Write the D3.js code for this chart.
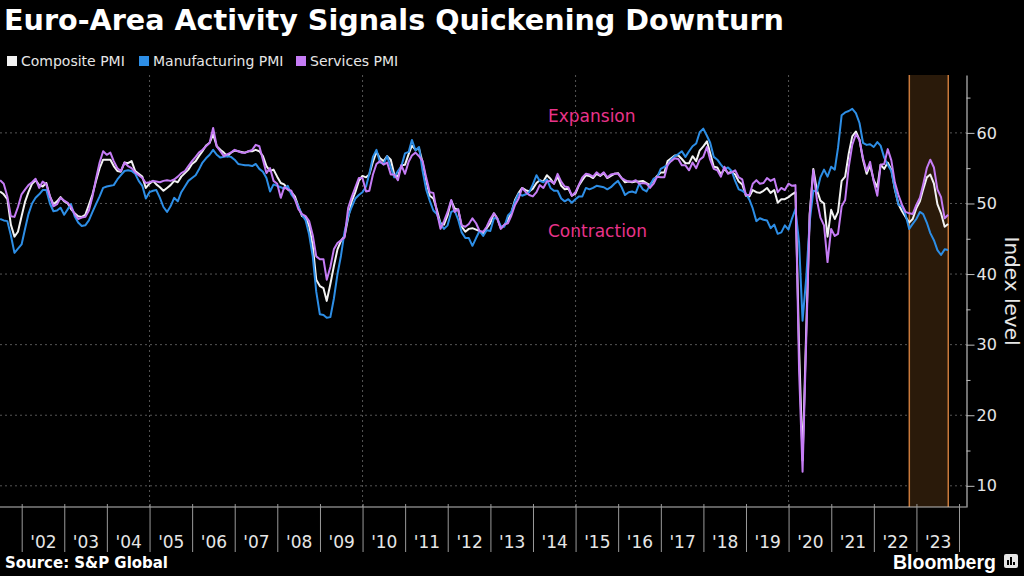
<!DOCTYPE html>
<html>
<head>
<meta charset="utf-8">
<script src="https://cdn.jsdelivr.net/npm/d3@7"></script>
<style>
html,body{margin:0;padding:0;background:#000;}
svg{display:block;}
</style>
</head>
<body>
<svg id="chart" width="1024" height="576"></svg>
<script>
// monthly readings, first value is June 2001, last is Sept 2023
var firstMonth = [2001, 5];

var composite = [
  51.7,51.3,50.6,47.0,45.3,46.0,48.2,                               // 2001 jun-dec
  50.3,51.6,52.8,53.3,52.6,52.4,52.9,51.0,49.9,50.3,50.9,50.3,      // 2002
  50.0,49.2,48.6,48.2,48.1,48.4,49.8,51.3,53.2,55.0,56.2,56.2,      // 2003
  56.2,55.3,54.6,54.5,55.8,55.7,56.0,54.6,54.2,53.8,52.2,52.8,      // 2004
  53.2,52.7,52.3,51.8,52.2,52.6,53.2,53.0,53.8,54.3,54.8,55.6,      // 2005
  56.0,56.7,57.4,58.2,58.6,59.8,58.1,57.6,57.2,56.7,57.2,57.5,      // 2006
  57.4,57.3,57.2,57.4,57.4,57.6,57.4,56.7,55.3,54.6,54.8,53.8,      // 2007
  52.9,52.7,52.0,51.6,51.0,49.6,48.2,48.0,46.8,44.0,39.2,38.3,      // 2008
  38.0,36.2,38.6,41.1,43.5,44.7,45.4,48.0,50.3,51.6,53.2,53.9,      // 2009
  53.7,54.1,55.9,57.3,56.4,56.0,56.7,56.2,54.1,53.8,55.4,55.5,      // 2010
  57.0,58.2,57.6,57.8,55.8,53.3,51.1,50.7,49.1,47.2,47.0,48.3,      // 2011
  50.4,49.3,49.1,46.7,46.0,46.4,46.5,46.3,46.1,45.7,46.5,47.2,      // 2012
  48.6,47.9,46.5,46.9,47.7,48.7,50.5,51.5,52.2,51.9,51.7,52.1,      // 2013
  52.9,53.3,53.1,54.0,53.5,52.8,53.8,52.5,52.0,52.1,51.1,51.4,      // 2014
  52.6,53.3,54.0,53.9,53.6,54.2,53.9,54.3,53.6,53.9,54.2,54.3,      // 2015
  53.6,53.0,53.1,53.0,53.1,53.1,53.2,52.9,52.6,53.3,53.9,54.4,      // 2016
  54.4,56.0,56.4,56.8,56.8,56.3,55.7,55.7,56.7,56.0,57.5,58.1,      // 2017
  58.8,57.1,55.2,55.1,54.1,54.9,54.3,54.5,54.1,53.1,52.7,51.1,      // 2018
  51.0,51.9,51.6,51.5,51.8,52.2,51.5,51.9,50.1,50.6,50.6,50.9,      // 2019
  51.3,51.6,29.7,13.6,31.9,48.5,54.9,51.9,50.4,50.0,45.3,49.1,      // 2020
  47.8,48.8,53.2,53.8,57.1,59.5,60.2,59.0,56.2,54.2,55.4,53.3,      // 2021
  52.3,55.5,54.9,55.8,54.8,52.0,49.9,48.9,48.1,47.3,47.8,49.3,      // 2022
  50.3,52.0,53.7,54.1,52.8,49.9,48.6,46.7,47.1                      // 2023 jan-sep
];

var manufacturing = [
  47.8,47.6,47.5,45.5,43.0,43.6,44.2,
  46.5,48.5,50.0,50.8,51.3,51.9,51.9,50.0,48.9,49.0,49.4,48.4,
  49.2,49.9,48.2,47.3,46.8,46.9,47.6,48.8,49.9,51.0,52.2,52.4,
  52.5,52.6,53.4,54.0,54.6,54.7,54.6,54.2,53.2,52.5,50.7,51.6,
  51.8,51.9,50.8,49.5,48.8,49.6,50.8,50.3,51.6,52.4,53.2,53.6,
  54.0,54.8,55.8,56.4,56.9,57.6,56.9,56.5,56.6,56.7,56.6,56.2,
  55.6,55.5,55.4,55.4,55.3,55.6,54.9,54.5,53.6,51.7,52.7,52.5,
  52.3,52.1,52.5,51.3,50.6,49.6,48.4,47.6,45.6,42.5,37.5,34.3,
  34.2,33.8,33.9,36.5,40.0,42.6,46.0,48.2,49.5,50.7,51.2,51.6,
  52.4,54.2,56.6,57.6,55.8,55.6,56.7,55.1,53.7,54.6,55.3,57.1,
  57.3,59.0,57.5,58.0,54.6,52.0,50.4,49.0,48.5,47.1,46.4,46.9,
  48.8,49.0,47.7,45.9,45.1,45.1,44.0,45.1,46.1,45.4,46.2,46.1,
  47.9,47.9,46.8,46.7,48.3,48.8,50.3,51.4,51.1,51.3,51.6,52.7,
  54.0,53.2,53.0,53.4,52.2,51.8,51.8,50.7,50.3,50.6,50.1,50.6,
  51.0,51.0,52.2,52.0,52.2,52.5,52.4,52.3,52.0,52.3,52.8,53.2,
  52.3,51.2,51.6,51.7,51.5,52.8,52.0,51.7,52.6,53.5,53.7,54.9,
  55.2,55.4,56.2,56.7,57.0,57.4,56.6,57.4,58.1,58.5,60.1,60.6,
  59.6,58.6,56.6,56.2,55.5,54.9,55.1,54.6,53.2,52.0,51.8,51.4,
  50.5,49.3,47.5,47.9,47.7,47.6,46.5,47.0,45.7,45.9,46.9,46.3,
  47.9,49.2,44.5,33.4,39.4,47.4,51.8,51.7,53.7,54.8,53.8,55.2,
  54.8,57.9,62.5,62.9,63.1,63.4,62.8,61.4,58.6,58.3,58.4,58.0,
  58.7,58.2,56.5,55.5,54.6,52.1,49.8,49.6,48.4,46.4,47.1,47.8,
  48.8,48.5,47.3,45.8,44.8,43.4,42.7,43.5,43.4
];

var services = [
  53.3,52.8,51.0,48.2,48.1,49.5,51.3,
  52.0,52.6,53.0,53.5,52.2,53.1,52.7,51.0,49.6,49.9,50.8,50.4,
  50.1,49.5,48.5,47.8,48.0,48.1,49.0,51.0,53.5,55.8,57.4,56.9,
  57.2,56.0,55.0,54.6,55.8,55.3,55.0,54.4,54.0,53.6,52.9,53.0,
  53.2,53.1,53.0,53.2,53.3,53.2,53.4,53.8,54.3,54.6,55.3,56.0,
  56.6,57.2,57.6,58.1,58.6,60.7,58.1,57.4,56.7,57.0,57.2,57.6,
  57.4,57.2,57.2,57.4,57.6,58.3,58.1,56.2,54.3,55.0,53.2,52.8,
  50.8,52.3,52.0,51.8,50.6,49.2,48.5,48.2,47.5,45.5,42.5,42.1,
  42.1,39.2,41.0,43.5,44.4,44.8,45.2,49.4,50.9,52.3,53.6,53.6,
  51.7,51.8,54.1,55.6,56.0,55.5,55.8,54.1,54.1,53.3,55.4,54.2,
  55.9,56.8,57.2,56.7,56.0,53.7,51.6,51.5,48.8,46.4,47.5,48.8,
  50.5,48.8,49.2,46.9,46.7,47.1,47.9,47.2,46.1,46.0,46.7,47.8,
  48.6,47.9,46.4,47.0,47.2,48.3,49.8,50.7,52.2,51.6,51.2,51.0,
  51.6,52.6,52.2,53.1,53.2,52.8,54.2,53.1,52.4,52.3,51.1,51.6,
  52.7,53.7,54.2,54.1,53.8,54.4,54.0,54.4,53.7,54.1,54.2,54.2,
  53.6,53.3,53.1,53.1,53.3,52.8,52.9,52.8,52.2,52.8,53.8,53.7,
  53.7,55.5,56.0,56.4,56.3,55.4,55.4,54.7,55.8,55.0,56.2,56.6,
  58.0,56.2,54.9,54.7,53.8,55.2,54.2,54.4,54.7,53.7,53.4,51.2,
  51.2,52.8,53.3,52.8,52.9,53.6,53.2,53.5,51.6,52.2,51.9,52.8,
  52.5,52.6,26.4,12.0,30.5,48.3,54.7,50.5,48.0,46.9,41.7,46.4,
  45.4,45.7,49.6,50.5,55.2,58.3,59.8,59.0,56.4,54.6,55.9,53.1,
  51.1,55.5,55.6,57.7,56.1,53.0,51.2,49.8,48.8,48.6,48.5,49.8,
  50.8,52.7,55.0,56.2,55.1,52.0,50.9,47.9,48.4
];

var seriesNames = ['Composite PMI', 'Manufacturing PMI', 'Services PMI'];
var seriesColors = ['#f2f2f2', '#2d8ee6', '#c57cf5'];
var yTicks = [10, 20, 30, 40, 50, 60];
var yMinor = [15, 25, 35, 45, 55, 65];
var gridYears = [2005, 2010, 2015, 2020];
var firstYear = 2002, lastYear = 2023;
var shadeFrom = new Date(2022, 10, 1), shadeTo = new Date(2023, 9, 1);

// month end dates, like the terminal does
function toPoints(vals) {
  return vals.map(function(v, i) {
    return {date: new Date(firstMonth[0], firstMonth[1] + i + 1, 0), v: v};
  });
}

var svg = d3.select('#chart');
var W = 1024, H = 576;
var plotL = 0, plotR = 966.5, plotT = 75, plotB = 507;
var txt = '#e6e6e6', axisCol = '#bdbdbd';

svg.append('rect').attr('width', W).attr('height', H).attr('fill', '#000');

var x = d3.scaleTime()
  .domain([new Date(2002, 0, 1), new Date(2024, 0, 1)])
  .range([21.7, 959]);
var y = d3.scaleLinear().domain([7, 68.2]).range([plotB, plotT]);

// grid
svg.append('g').selectAll('line').data(yTicks).enter().append('line')
  .attr('x1', plotL).attr('x2', plotR)
  .attr('y1', function(d) { return y(d); }).attr('y2', function(d) { return y(d); })
  .attr('stroke', '#555').attr('stroke-width', 1).attr('stroke-dasharray', '2,3');
svg.append('g').selectAll('line').data(gridYears).enter().append('line')
  .attr('x1', function(d) { return x(new Date(d, 0, 1)); })
  .attr('x2', function(d) { return x(new Date(d, 0, 1)); })
  .attr('y1', plotT).attr('y2', plotB)
  .attr('stroke', '#555').attr('stroke-width', 1).attr('stroke-dasharray', '2,3');

// shaded stretch at the end, orange edges only on the sides
var sx0 = x(shadeFrom), sx1 = x(shadeTo);
svg.append('rect')
  .attr('x', sx0).attr('y', plotT)
  .attr('width', sx1 - sx0).attr('height', plotB - plotT)
  .attr('fill', '#2a1a0a');
svg.append('g').selectAll('line').data([sx0, sx1]).enter().append('line')
  .attr('x1', function(d) { return d; }).attr('x2', function(d) { return d; })
  .attr('y1', plotT).attr('y2', plotB)
  .attr('stroke', '#c9793b').attr('stroke-width', 1.5);

// lines
var line = d3.line().x(function(d) { return x(d.date); }).y(function(d) { return y(d.v); });
[composite, manufacturing, services].forEach(function(s, i) {
  svg.append('path')
    .datum(toPoints(s))
    .attr('d', line)
    .attr('fill', 'none')
    .attr('stroke', seriesColors[i])
    .attr('stroke-width', 2)
    .attr('stroke-linejoin', 'round');
});

// x axis
var years = d3.range(firstYear, lastYear + 2).map(function(yr) { return new Date(yr, 0, 1); });
var mids = d3.range(firstYear, lastYear + 1).map(function(yr) { return new Date(yr, 6, 2); });
svg.append('line').attr('x1', plotL).attr('x2', plotR).attr('y1', plotB).attr('y2', plotB)
  .attr('stroke', axisCol).attr('stroke-width', 1.2);
var xt = svg.append('g').attr('transform', 'translate(0,' + (plotB - 3) + ')')
  .call(d3.axisBottom(x).tickValues(years).tickSize(48).tickFormat(''));
xt.select('.domain').remove();
xt.selectAll('line').attr('stroke', '#9a9a9a');
var xl = svg.append('g').attr('transform', 'translate(0,' + plotB + ')')
  .call(d3.axisBottom(x).tickValues(mids).tickSize(0).tickPadding(29)
    .tickFormat(function(d) { return "'" + d3.timeFormat('%y')(d); }));
xl.select('.domain').remove();
xl.selectAll('text').attr('fill', txt).attr('font-family', 'DejaVu Sans').attr('font-size', 17);

// y axis
var ya = svg.append('g').attr('transform', 'translate(' + plotR + ',0)')
  .call(d3.axisRight(y).tickValues(yTicks).tickSize(8).tickSizeOuter(0).tickPadding(2));
ya.select('.domain').attr('stroke', axisCol).attr('stroke-width', 1.2);
ya.selectAll('line').attr('stroke', axisCol);
ya.selectAll('text').attr('fill', txt).attr('font-family', 'DejaVu Sans').attr('font-size', 16);
var ym = svg.append('g').attr('transform', 'translate(' + plotR + ',0)')
  .call(d3.axisRight(y).tickValues(yMinor).tickSize(4).tickFormat(''));
ym.select('.domain').remove();
ym.selectAll('line').attr('stroke', axisCol);

svg.append('text')
  .attr('transform', 'translate(1005,291) rotate(90)')
  .attr('text-anchor', 'middle')
  .attr('font-family', 'DejaVu Sans').attr('font-size', 20)
  .attr('fill', txt).text('Index level');

// zone labels
var pink = '#e8338a';
svg.append('text').attr('x', 548).attr('y', 122).attr('font-family', 'DejaVu Sans')
  .attr('font-size', 17).attr('fill', pink).text('Expansion');
svg.append('text').attr('x', 548).attr('y', 237).attr('font-family', 'DejaVu Sans')
  .attr('font-size', 17).attr('fill', pink).text('Contraction');

// legend
var legX = [7, 139, 296];
var leg = svg.append('g').selectAll('g').data(seriesNames).enter().append('g')
  .attr('transform', function(d, i) { return 'translate(' + legX[i] + ',56)'; });
leg.append('rect').attr('width', 10).attr('height', 10)
  .attr('fill', function(d, i) { return seriesColors[i]; });
leg.append('text').attr('x', 14).attr('y', 9.5)
  .attr('font-family', 'DejaVu Sans').attr('font-size', 14)
  .attr('fill', txt).text(function(d) { return d; });

function fitWidth(sel, w) {
  var len = sel.node().getComputedTextLength();
  var fs = parseFloat(sel.attr('font-size'));
  sel.attr('font-size', (fs * w / len).toFixed(2));
}

var title = svg.append('text').attr('x', 4).attr('y', 29.5)
  .attr('font-family', 'DejaVu Sans').attr('font-weight', 'bold').attr('font-size', 28)
  .attr('fill', '#fff').text('Euro-Area Activity Signals Quickening Downturn');
fitWidth(title, 780);

var src = svg.append('text').attr('x', 5).attr('y', 568)
  .attr('font-family', 'DejaVu Sans').attr('font-weight', 'bold').attr('font-size', 14)
  .attr('fill', '#fff').text('Source: S&P Global');
fitWidth(src, 163);

var bb = svg.append('text').attr('x', 893).attr('y', 569)
  .attr('font-family', 'Liberation Sans').attr('font-weight', 'bold').attr('font-size', 19.5)
  .attr('fill', '#fff').text('Bloomberg');
fitWidth(bb, 103);

// little terminal icon next to the wordmark
var ic = svg.append('g').attr('transform', 'translate(1004,554)');
ic.append('rect').attr('width', 14).attr('height', 14).attr('rx', 2).attr('fill', '#e6e6e6');
ic.selectAll('.b').data([5, 8, 3]).enter().append('rect')
  .attr('x', function(d, i) { return 3 + i * 3; })
  .attr('y', function(d) { return 11 - d; })
  .attr('width', 2).attr('height', function(d) { return d; })
  .attr('fill', '#000');
</script>
</body>
</html>
